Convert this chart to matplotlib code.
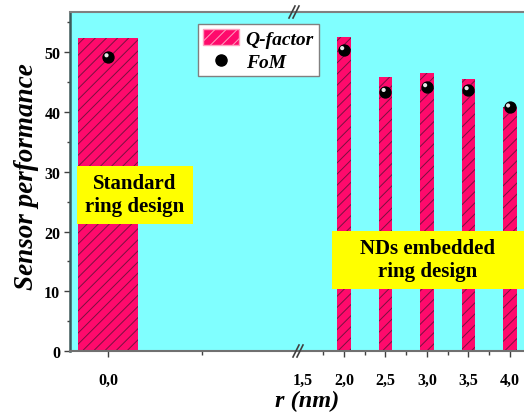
import matplotlib
matplotlib.use('Agg')
import matplotlib.pyplot as plt
import matplotlib.ticker as ticker
import matplotlib.transforms as mtransforms
from matplotlib.patches import Patch, Rectangle
from matplotlib.lines import Line2D

plt.rcParams.update({
    'font.family': 'Liberation Serif',
    'font.weight': 'bold',
    'hatch.linewidth': 0.7,
})

# data
r_std = [0.0]
q_std = [52.4]
fom_std = [49.2]

r_nd = [2.0, 2.5, 3.0, 3.5, 4.0]
q_nd = [52.6, 45.8, 46.5, 45.6, 40.9]
fom_nd = [50.4, 43.4, 44.2, 43.7, 40.8]

bar_color = '#FF0A6C'
hatch_color = '#7A1040'
bg_color = '#80FFFF'

W, H = 524, 414
fig = plt.figure(figsize=(W / 100, H / 100), dpi=100)

left, right, brk, top, bottom = 70, 524, 299, 13, 352
ax1 = fig.add_axes([left / W, 1 - bottom / H, (brk - left) / W, (bottom - top) / H])
ax2 = fig.add_axes([brk / W, 1 - bottom / H, (right - brk) / W, (bottom - top) / H], sharey=ax1)

for ax in (ax1, ax2):
    ax.set_facecolor(bg_color)
    ax.spines['right'].set_visible(False)
    ax.spines['top'].set_color('#808080')
    ax.spines['bottom'].set_color('#707070')
    ax.spines['top'].set_linewidth(1.5)
    ax.spines['bottom'].set_linewidth(1.5)
    ax.tick_params(axis='x', which='major', length=4, width=1, pad=11, labelsize=11.5, color='#404040')
    ax.tick_params(axis='x', which='minor', length=3, width=1, color='#404040')

ax2.spines['left'].set_visible(False)
ax1.spines['left'].set_color('#3C5858')
ax1.spines['left'].set_linewidth(1.8)


def draw(ax, x, q, fom, width):
    ax.bar(x, q, width=width, color=bar_color, edgecolor='none', zorder=2)
    ax.bar(x, q, width=width, color='none', edgecolor=hatch_color, hatch='///',
           linewidth=0, zorder=2.1)
    ax.scatter(x, fom, s=62, color='black', zorder=4)
    hl = mtransforms.offset_copy(ax.transData, fig=fig, x=-1.3, y=1.3, units='points')
    ax.scatter(x, fom, s=9, color='#e8e8e8', edgecolors='none', transform=hl, zorder=5)


draw(ax1, r_std, q_std, fom_std, 0.32)
draw(ax2, r_nd, q_nd, fom_nd, 0.165)

# left segment scale
ax1.set_xlim(-0.205, 1.02)
ax1.set_xticks([0.0])
ax1.set_xticklabels(['0,0'])
ax1.xaxis.set_minor_locator(ticker.FixedLocator([0.5]))

# right segment scale
ax2.set_xlim(1.458, 4.17)
ax2.set_xticks([1.5, 2.0, 2.5, 3.0, 3.5, 4.0])
ax2.set_xticklabels(['1,5', '2,0', '2,5', '3,0', '3,5', '4,0'])
ax2.xaxis.set_minor_locator(ticker.FixedLocator([1.75, 2.25, 2.75, 3.25, 3.75]))
ax2.tick_params(axis='y', left=False, labelleft=False, which='both')
ax2.get_xticklines()[0].set_visible(False)

ax1.set_ylim(0, 56.75)
ax1.yaxis.set_major_locator(ticker.MultipleLocator(10))
ax1.yaxis.set_minor_locator(ticker.MultipleLocator(5))
ax1.tick_params(axis='y', which='major', length=4, width=1, labelsize=11.5, pad=3, color='#404040')
ax1.tick_params(axis='y', which='minor', length=2.5, width=1, color='#404040')

# break marks
for xp, yp in [(295, 13), (299, 352)]:
    for dx in (-3, 1):
        fig.add_artist(Line2D([(xp + dx - 3) / W, (xp + dx + 3) / W],
                              [1 - (yp + 6) / H, 1 - (yp - 6) / H],
                              color='#404040', lw=1.2))

fig.text(27 / W, 1 - 177 / H, 'Sensor performance', rotation=90, ha='center', va='center',
         fontsize=19.5, fontstyle='italic', fontweight='bold')
fig.text(307 / W, 1 - 401 / H, 'r (nm)', ha='center', va='center',
         fontsize=17.5, fontstyle='italic', fontweight='bold')

# yellow annotation boxes (figure pixels: x0, y0, x1, y1)
for (x0, y0, x1, y1), label in [((77, 167, 193, 225), 'Standard\nring design'),
                                ((332, 232, 524, 290), 'NDs embedded\nring design')]:
    fig.add_artist(Rectangle((x0 / W, 1 - y1 / H), (x1 - x0) / W, (y1 - y0) / H,
                             transform=fig.transFigure, facecolor='yellow',
                             edgecolor='none', zorder=6))
    fig.text((x0 + x1) / 2 / W, 1 - (y0 + y1) / 2 / H, label, ha='center', va='center',
             multialignment='center', fontsize=15, linespacing=1.2, zorder=7)

handles = [
    Patch(facecolor=bar_color, edgecolor='#FFA0C0', hatch='///', label='Q-factor'),
    Line2D([0], [0], marker='o', linestyle='none', color='black', markersize=8, label='FoM'),
]
leg = fig.legend(handles=handles, loc='upper left', bbox_to_anchor=(198 / W, 1 - 25 / H),
                 frameon=True, fancybox=False, edgecolor='#808080', framealpha=1,
                 prop={'style': 'italic', 'weight': 'bold', 'size': 14},
                 handlelength=1.85, handleheight=0.9, borderpad=0.25, labelspacing=0.25,
                 handletextpad=0.35, borderaxespad=0)
leg.get_frame().set_linewidth(1.0)

fig.savefig('out.png', dpi=100)
